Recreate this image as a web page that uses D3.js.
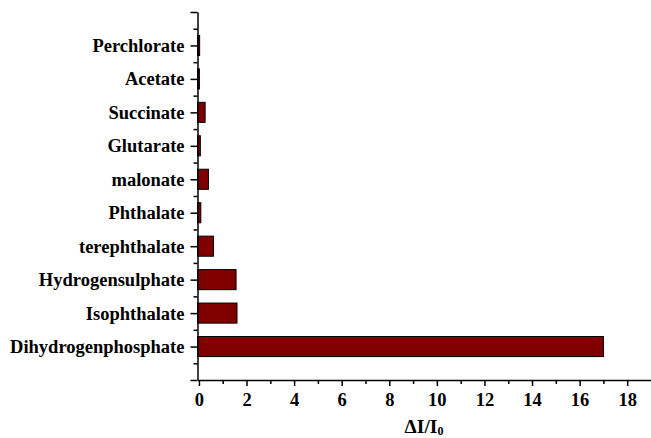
<!DOCTYPE html>
<html>
<head>
<meta charset="utf-8">
<script src="https://cdn.jsdelivr.net/npm/d3@7/dist/d3.min.js"></script>
<style>
  html, body { margin: 0; padding: 0; background: #fff; }
  svg { display: block; }
  text { font-family: "Liberation Serif", "Times New Roman", serif; font-weight: bold; fill: #000; }
</style>
</head>
<body>
<script>
// Anions, listed bottom to top
const anions = ["Dihydrogenphosphate", "Isophthalate", "Hydrogensulphate", "terephthalate",
  "Phthalate", "malonate", "Glutarate", "Succinate", "Acetate", "Perchlorate"];
// Relative intensity change ΔI/I0 for each anion
const response = [17.0, 1.60, 1.56, 0.61, 0.08, 0.40, 0.06, 0.26, 0.02, 0.03];
// Labelled ticks on the value axis
const xTickValues = [0, 2, 4, 6, 8, 10, 12, 14, 16, 18];

const W = 651, H = 438;
const svg = d3.select("body").append("svg").attr("width", W).attr("height", H);

const x = d3.scaleLinear().domain([-0.06, 19]).range([197.5, 651]);
// categories sit at positions 1..n; axis runs from 0 to n+1
const y = d3.scaleLinear().domain([0, anions.length + 1]).range([380, 12]);
const pos = anions.map((d, i) => i + 1);

const axisColor = "#000";
const fontSize = 18.5;

// bars
svg.append("g").selectAll("rect")
  .data(anions.map((a, i) => ({ a, v: response[i], p: pos[i] })))
  .join("rect")
  .attr("x", x.range()[0])
  .attr("y", d => y(d.p + 0.3))
  .attr("width", d => x(d.v) - x.range()[0])
  .attr("height", d => y(d.p - 0.3) - y(d.p + 0.3))
  .attr("fill", "#800000")
  .attr("stroke", "#000")
  .attr("stroke-width", 1);

// x axis: minor ticks at odd values, major labelled ticks at even values
const xAxisG = svg.append("g").attr("transform", `translate(0,${y.range()[0]})`);
xAxisG.append("g")
  .call(d3.axisBottom(x).tickValues(d3.range(1, 19, 2)).tickSize(4).tickFormat(""))
  .call(g => g.select(".domain").remove());
xAxisG.append("g")
  .call(d3.axisBottom(x).tickValues(xTickValues).tickSize(6).tickSizeOuter(0).tickFormat(d3.format("d")))
  .call(g => g.selectAll("text").attr("y", 26).attr("dy", 0).style("font-size", fontSize + "px"));
xAxisG.selectAll("line, path").attr("stroke", axisColor).attr("stroke-width", 1.5);

// y axis: minor ticks at half positions, major ticks at integer positions
const yAxisG = svg.append("g").attr("transform", `translate(${x.range()[0]},0)`);
yAxisG.append("g")
  .call(d3.axisLeft(y).tickValues(d3.range(0.5, anions.length + 1, 1)).tickSize(4).tickFormat(""))
  .call(g => g.select(".domain").remove());
yAxisG.append("g")
  .call(d3.axisLeft(y).tickValues(d3.range(0, anions.length + 2)).tickSize(7).tickSizeOuter(0)
    .tickFormat(d => (d >= 1 && d <= anions.length) ? anions[d - 1] : ""))
  .call(g => g.selectAll("text").attr("x", -13).style("font-size", fontSize + "px"));
yAxisG.selectAll("line, path").attr("stroke", axisColor).attr("stroke-width", 1.5);

// x axis title ΔI/I0
const title = svg.append("text")
  .attr("x", 424).attr("y", 433)
  .attr("text-anchor", "middle")
  .style("font-size", "19.5px");
title.append("tspan").text("ΔI/I");
title.append("tspan").text("0").attr("dy", 2).style("font-size", "12px");
</script>
</body>
</html>
